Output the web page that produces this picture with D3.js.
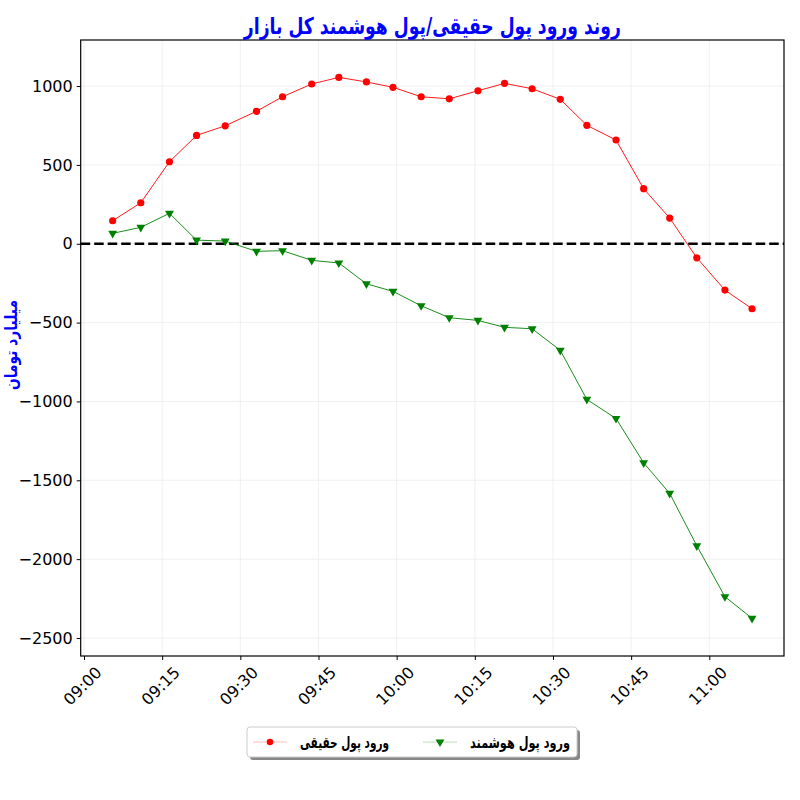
<!DOCTYPE html>
<html>
<head>
<meta charset="utf-8">
<script src="https://cdn.jsdelivr.net/npm/d3@7"></script>
<style>
  body { margin: 0; background: #fff; }
  svg text { font-family: "DejaVu Sans", sans-serif; }
</style>
</head>
<body>
<svg id="chart" width="800" height="800"></svg>
<script>
// sample times (HH:MM:SS)
const times = ["09:05:30", "09:10:54", "09:16:24", "09:21:36", "09:27:06", "09:33:06",
  "09:38:06", "09:43:42", "09:48:54", "09:54:12", "09:59:18", "10:04:42",
  "10:10:06", "10:15:36", "10:20:42", "10:26:00", "10:31:24", "10:36:30",
  "10:42:06", "10:47:24", "10:52:24", "10:57:36", "11:03:00", "11:08:12"];

// real money inflow (billion toman)
const realMoney = [146, 260, 520, 687, 748, 840, 932, 1013, 1055, 1026, 992, 932,
  919, 970, 1017, 983, 916, 751, 658, 349, 163, -89, -294, -412];

// smart money inflow (billion toman)
const smartMoney = [66, 104, 193, 23, 17, -48, -44, -105, -122, -254, -302, -393,
  -469, -486, -530, -539, -676, -987, -1108, -1389, -1583, -1915, -2238, -2375];

const yTicks = [-2500, -2000, -1500, -1000, -500, 0, 500, 1000];
const titleText = "روند ورود پول حقیقی/پول هوشمند کل بازار";
const yLabel = "میلیارد تومان";
const seriesNames = ["ورود پول حقیقی", "ورود پول هوشمند"];

const svg = d3.select("#chart");
const margin = {top: 40, right: 16, bottom: 144, left: 80.7};
const width = 800 - margin.left - margin.right;
const height = 800 - margin.top - margin.bottom;

const parse = d3.timeParse("%H:%M:%S");
const dates = times.map(parse);

// matplotlib-like 5% margins on x
const xExt = d3.extent(dates);
const pad = (xExt[1] - xExt[0]) * 0.05;
const x = d3.scaleTime()
    .domain([new Date(+xExt[0] - pad), new Date(+xExt[1] + pad)])
    .range([0, width]);
const y = d3.scaleLinear().domain([-2614, 1292]).range([height, 0]);

const g = svg.append("g").attr("transform", `translate(${margin.left},${margin.top})`);

// grid
const xTickVals = x.ticks(d3.timeMinute.every(15));
g.append("g").selectAll("line.gx")
  .data(xTickVals)
  .join("line")
    .attr("x1", d => x(d)).attr("x2", d => x(d))
    .attr("y1", 0).attr("y2", height)
    .attr("stroke", "#ececec").attr("stroke-width", 0.8);
g.append("g").selectAll("line.gy")
  .data(yTicks)
  .join("line")
    .attr("x1", 0).attr("x2", width)
    .attr("y1", d => y(d)).attr("y2", d => y(d))
    .attr("stroke", "#ececec").attr("stroke-width", 0.8);

// zero line
g.append("line")
    .attr("x1", 0).attr("x2", width)
    .attr("y1", y(0)).attr("y2", y(0))
    .attr("stroke", "#000").attr("stroke-width", 2.5)
    .attr("stroke-dasharray", "9.5,4");

const line = d3.line().x((d, i) => x(dates[i])).y(d => y(d));

// real money
g.append("path").datum(realMoney)
    .attr("fill", "none").attr("stroke", "red").attr("stroke-width", 0.9)
    .attr("d", line);
g.append("g").selectAll("circle")
  .data(realMoney)
  .join("circle")
    .attr("cx", (d, i) => x(dates[i]))
    .attr("cy", d => y(d))
    .attr("r", 3.6)
    .attr("fill", "red");

// smart money
const tri = d3.symbol(d3.symbolTriangle, 34);
g.append("path").datum(smartMoney)
    .attr("fill", "none").attr("stroke", "green").attr("stroke-width", 0.9)
    .attr("d", line);
g.append("g").selectAll("path.tri")
  .data(smartMoney)
  .join("path")
    .attr("d", tri)
    .attr("transform", (d, i) => `translate(${x(dates[i])},${y(d)}) rotate(180)`)
    .attr("fill", "green");

// axes
const yAxis = g.append("g")
    .call(d3.axisLeft(y).tickValues(yTicks).tickSize(4).tickPadding(4)
      .tickFormat(d => d3.format("d")(d).replace("-", "\u2212")));
yAxis.select(".domain").remove();
yAxis.selectAll("text").attr("font-size", 16).attr("fill", "#000")
    .style("font-family", "DejaVu Sans");

const xAxis = g.append("g")
    .attr("transform", `translate(0,${height})`)
    .call(d3.axisBottom(x).tickValues(xTickVals).tickSize(4)
      .tickFormat(d3.timeFormat("%H:%M")));
xAxis.select(".domain").remove();
xAxis.selectAll("text")
    .attr("font-size", 16).attr("fill", "#000")
    .style("font-family", "DejaVu Sans")
    .attr("text-anchor", "middle")
    .attr("dy", "0.35em").attr("y", 0)
    .attr("transform", "translate(-2,30) rotate(-45)");

// frame
g.append("rect")
    .attr("width", width).attr("height", height)
    .attr("fill", "none").attr("stroke", "#000").attr("stroke-width", 1.2);

// title
svg.append("text")
    .attr("x", margin.left + width / 2).attr("y", 34)
    .attr("text-anchor", "middle")
    .attr("font-size", 23).attr("font-weight", "bold")
    .attr("fill", "blue")
    .attr("textLength", 377).attr("lengthAdjust", "spacingAndGlyphs")
    .text(titleText);

// y label
svg.append("text")
    .attr("transform", `translate(12,${margin.top + height / 2 - 3}) rotate(-90)`)
    .attr("text-anchor", "middle")
    .attr("dominant-baseline", "middle")
    .attr("font-size", 17).attr("font-weight", "bold")
    .attr("fill", "blue")
    .attr("textLength", 90).attr("lengthAdjust", "spacingAndGlyphs")
    .text(yLabel);

// legend
const leg = svg.append("g").attr("transform", "translate(247,727)");
const legW = 330, legH = 30;
leg.append("rect")
    .attr("x", 3).attr("y", 3).attr("width", legW).attr("height", legH)
    .attr("rx", 3).attr("fill", "#888");
leg.append("rect")
    .attr("width", legW).attr("height", legH)
    .attr("rx", 3).attr("fill", "#fff").attr("stroke", "#ccc");

const legItems = [
  {name: seriesNames[0], color: "red", marker: "circle", x0: 6, tw: 89},
  {name: seriesNames[1], color: "green", marker: "tri", x0: 176, tw: 100}
];
legItems.forEach(it => {
  const gi = leg.append("g").attr("transform", `translate(${it.x0},${legH / 2})`);
  gi.append("line").attr("x1", 0).attr("x2", 34)
      .attr("stroke", it.color).attr("stroke-width", 1).attr("opacity", 0.25);
  if (it.marker === "circle") {
    gi.append("circle").attr("cx", 17).attr("r", 3.3).attr("fill", it.color);
  } else {
    gi.append("path").attr("d", tri).attr("transform", "translate(17,0) rotate(180)")
        .attr("fill", it.color);
  }
  gi.append("text")
      .attr("x", 47 + it.tw / 2).attr("dy", "0.35em")
      .attr("font-size", 16).attr("font-weight", "bold")
      .attr("fill", "#000")
      .attr("text-anchor", "middle")
      .attr("textLength", it.tw).attr("lengthAdjust", "spacingAndGlyphs")
      .text(it.name);
});
</script>
</body>
</html>
